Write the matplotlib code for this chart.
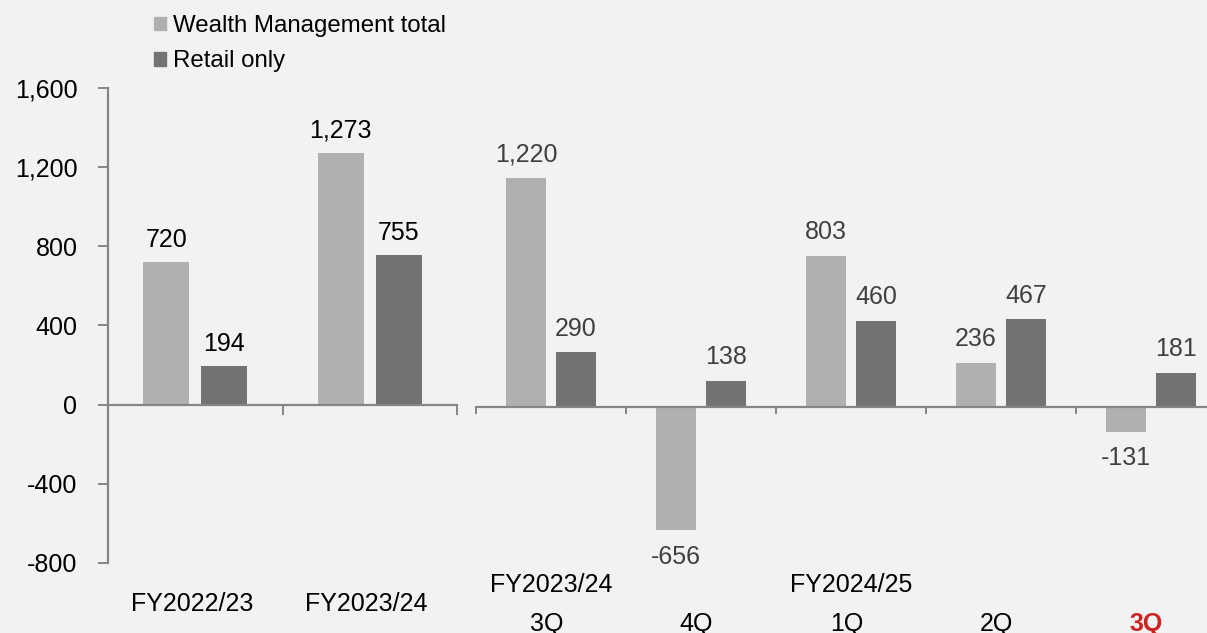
import numpy as np
from matplotlib import pyplot as plt
from matplotlib.patches import Patch
from matplotlib.transforms import blended_transform_factory

plt.rcParams['font.family'] = ['Liberation Sans', 'DejaVu Sans']

# annual figures (left panel)
years = ["FY2022/23", "FY2023/24"]
wm_year = [720, 1273]
retail_year = [194, 755]

# quarterly figures (right panel)
quarters = ["3Q", "4Q", "1Q", "2Q", "3Q"]
quarter_fy = ["FY2023/24", "", "FY2024/25", "", ""]
wm_q = [1220, -656, 803, 236, -131]
retail_q = [290, 138, 460, 467, 181]

light = "#b0b0b0"
dark = "#737373"
axis_col = "#868686"
bg = "#f2f2f2"
fs = 18

fig = plt.figure(figsize=(12.07, 6.33), dpi=100)
fig.patch.set_facecolor(bg)

ax1 = fig.add_axes([108/1207, 70/633, 349/1207, 475/633])
ax2 = fig.add_axes([476/1207, 70/633, 750/1207, 475/633])

for ax in (ax1, ax2):
    ax.set_facecolor("none")
    for s in ("top", "right"):
        ax.spines[s].set_visible(False)
    ax.spines["bottom"].set_position(("data", 0))
    ax.spines["bottom"].set_color(axis_col)
    ax.spines["bottom"].set_linewidth(1.6)
    ax.tick_params(axis="x", direction="out", length=7, width=1.4, color=axis_col, labelbottom=False)

def fmt(v):
    return f"{v:,}"

# left panel
x = np.arange(len(years))
w = 0.263
off = 0.166
ax1.bar(x - off, wm_year, w, color=light)
ax1.bar(x + off, retail_year, w, color=dark)
ax1.set_xlim(-0.5, len(years) - 0.5)
ax1.set_ylim(-800, 1600)
ax1.set_yticks(np.arange(-800, 1601, 400))
ax1.set_yticklabels([fmt(v) for v in np.arange(-800, 1601, 400)], fontsize=fs)
ax1.spines["left"].set_color(axis_col)
ax1.spines["left"].set_linewidth(1.6)
ax1.tick_params(axis="y", direction="out", length=7, width=1.4, color=axis_col, pad=15)
ax1.set_xticks(np.arange(-0.5, len(years), 1.0))
for xi, v in zip(x - off, wm_year):
    ax1.annotate(fmt(v), (xi, v), xytext=(0, 16 if v >= 0 else -18), textcoords="offset points",
                 ha="center", va="center", fontsize=fs, color="black")
for xi, v in zip(x + off, retail_year):
    ax1.annotate(fmt(v), (xi, v), xytext=(0, 16 if v >= 0 else -18), textcoords="offset points",
                 ha="center", va="center", fontsize=fs, color="black")
tr1 = blended_transform_factory(ax1.transData, fig.transFigure)
for xi, lab in zip(x, years):
    ax1.text(xi - 0.02, 1 - 604/633, lab, transform=tr1, ha="center", va="center", fontsize=fs)

# right panel
xq = np.arange(len(quarters))
w2 = 0.267
off2 = 0.167
ax2.bar(xq - off2, wm_q, w2, color=light)
ax2.bar(xq + off2, retail_q, w2, color=dark)
ax2.set_xlim(-0.5, len(quarters) - 0.5)
ax2.set_ylim(-830, 1697)
ax2.spines["left"].set_visible(False)
ax2.set_yticks([])
ax2.set_xticks(np.arange(-0.5, len(quarters), 1.0))
ax2.tick_params(axis="x", length=5)
for xi, v in zip(xq - off2, wm_q):
    ax2.annotate(fmt(v), (xi, v), xytext=(0, 17 if v >= 0 else -19), textcoords="offset points",
                 ha="center", va="center", fontsize=fs, color="#404040")
for xi, v in zip(xq + off2, retail_q):
    ax2.annotate(fmt(v), (xi, v), xytext=(0, 17 if v >= 0 else -19), textcoords="offset points",
                 ha="center", va="center", fontsize=fs, color="#404040")
tr2 = blended_transform_factory(ax2.transData, fig.transFigure)
for i, (q, fy) in enumerate(zip(quarters, quarter_fy)):
    last = i == len(quarters) - 1
    ax2.text(xq[i] - 0.03, 1 - 624/633, q, transform=tr2, ha="center", va="center", fontsize=fs,
             color="#cc2222" if last else "black", fontweight="bold" if last else "normal")
    if fy:
        ax2.text(xq[i], 1 - 585/633, fy, transform=tr2, ha="center", va="center", fontsize=fs)

handles = [Patch(color=light, label="Wealth Management total"),
           Patch(color=dark, label="Retail only")]
fig.legend(handles=handles, loc="upper left", bbox_to_anchor=(154/1207, 1 - 15/633), frameon=False,
           fontsize=17.3, handlelength=0.5, handleheight=0.5, handletextpad=0.3, labelspacing=0.55,
           borderpad=0, borderaxespad=0)

fig.savefig("out.png", facecolor=bg)
